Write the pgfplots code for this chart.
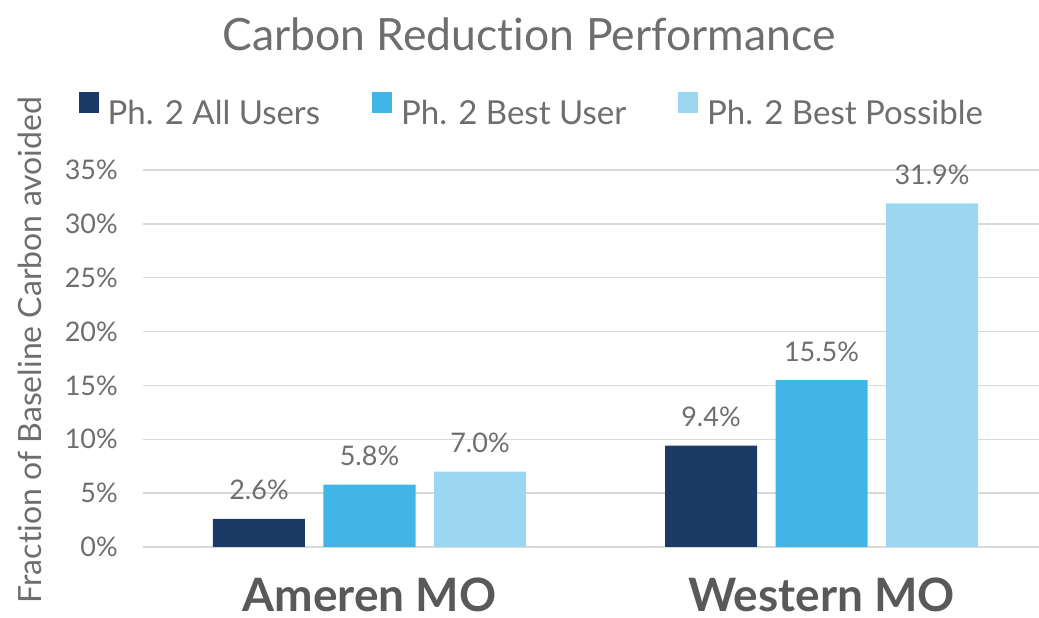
\documentclass[border=0pt]{standalone}
\usepackage{pgfplots}
\pgfplotsset{compat=1.18}
\usepackage{fontspec}
\setmainfont{Lato}[Ligatures=NoCommon]
\definecolor{cA}{HTML}{1B3A66}
\definecolor{cB}{HTML}{41B6E6}
\definecolor{cC}{HTML}{9CD7F1}
\definecolor{txt}{HTML}{6E6E6E}
\definecolor{cat}{HTML}{595959}
\definecolor{gridc}{HTML}{D9D9D9}
\begin{document}
\begin{tikzpicture}[x=1pt,y=1pt]
\begin{axis}[
  at={(143pt,71pt)}, anchor=south west,
  scale only axis, width=896pt, height=377pt,
  xmin=-0.5011, xmax=1.4812, ymin=0, ymax=35,
  /pgf/number format/assume math mode=true,
  axis line style={draw=none},
  major tick length=0pt,
  tick style={draw=none},
  ymajorgrids, grid style={color=gridc, line width=1.3pt},
  ytick={0,5,...,35},
  yticklabel={\pgfmathprintnumber{\tick}\%},
  yticklabel style={font=\fontsize{27}{27}\selectfont, text=txt, anchor=east, inner sep=0pt, xshift=-25pt},
  xtick={0,1}, xticklabels={Ameren MO, Western MO},
  xticklabel style={font=\fontsize{46}{46}\selectfont\bfseries, text=cat, anchor=base, inner sep=0pt, yshift=-65pt},
  ybar=18.5pt, bar width=92pt,
  nodes near coords={\pgfmathprintnumber[fixed,fixed zerofill,precision=1]{\pgfplotspointmeta}\%},
  every node near coord/.append style={font=\fontsize{27}{27}\selectfont, text=txt, anchor=base, inner sep=0pt, yshift=19pt},
  title={Carbon Reduction Performance},
  title style={font=\fontsize{44.5}{44.5}\selectfont, text=txt, at={(axis description cs:0.4308,1.345)}, anchor=center},
  ylabel={Fraction of Baseline Carbon avoided},
  ylabel style={font=\fontsize{32}{32}\selectfont, text=txt, at={(axis description cs:-0.1261,0.5225)}, anchor=center},
  legend columns=3,
  legend image code/.code={\fill[#1] (0pt,0pt) rectangle (20pt,21pt); \path (27pt,0pt);},
  legend style={at={(axis description cs:-0.072,1.159)}, anchor=west, draw=none, fill=none, inner sep=0pt,
    font=\fontsize{33}{33}\selectfont, text=txt,
    /tikz/every even column/.append style={column sep=50pt}},
]
\addplot[fill=cA, draw=none] coordinates {(0,2.6) (1,9.4)};
\addplot[fill=cB, draw=none] coordinates {(0,5.8) (1,15.5)};
\addplot[fill=cC, draw=none] coordinates {(0,7.0) (1,31.9)};
\legend{Ph. 2 All Users, Ph. 2 Best User, Ph. 2 Best Possible}
\end{axis}
\pgfresetboundingbox
\useasboundingbox (0,0) rectangle (1039pt,618pt);
\end{tikzpicture}
\end{document}
